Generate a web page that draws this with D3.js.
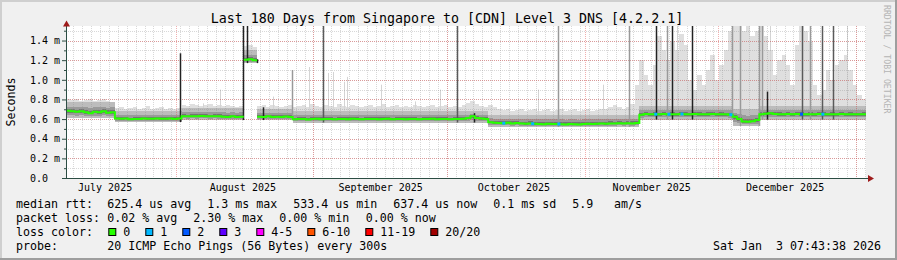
<!DOCTYPE html>
<meta charset="utf-8">
<style>
body { margin: 0; background: #f0f0f0; }
svg { display: block; font-family: "DejaVu Sans Mono", monospace; }
.axis text { font-size: 10px; fill: #000; font-family: "DejaVu Sans Mono", monospace; }
.legend text { font-size: 11.63px; fill: #000; }
</style>
<body>
<svg width="897" height="260"></svg>
<script src="https://cdn.jsdelivr.net/npm/d3@7"></script>
<script>

var title = "Last 180 Days from Singapore to [CDN] Level 3 DNS [4.2.2.1]";
var startTime = new Date("2025-07-07T07:40:00Z");
var endTime = new Date("2026-01-03T07:40:00Z");

// daily median rtt, ms (one value per day from startTime)
var medianMs = [
  // Jul 7 - Jul 17
  0.685, 0.680, 0.675, 0.680, 0.670, 0.660, 0.675, 0.670, 0.680, 0.665, 0.670,
  // Jul 18 - Aug 1
  0.607, 0.603, 0.605, 0.598, 0.600, 0.602, 0.605, 0.603, 0.604, 0.605, 0.603, 0.604, 0.605, 0.602, 0.605,
  // Aug 2 - Aug 15
  0.630, 0.628, 0.630, 0.629, 0.631, 0.630, 0.628, 0.630, 0.629, 0.625, 0.622, 0.628, 0.620, 0.625,
  // Aug 16 - Aug 18
  1.205, 1.210, 1.200,
  // Aug 19 - Aug 26
  0.625, 0.620, 0.628, 0.622, 0.625, 0.620, 0.626, 0.622,
  // Aug 27 - Oct 9
  0.598, 0.600, 0.602, 0.597, 0.600, 0.603, 0.599, 0.601, 0.600, 0.598,
  0.602, 0.600, 0.599, 0.603, 0.600, 0.598, 0.601, 0.600, 0.602, 0.599,
  0.600, 0.603, 0.598, 0.600, 0.601, 0.599, 0.602, 0.600, 0.598, 0.601,
  0.600, 0.603, 0.599, 0.600, 0.602, 0.598, 0.601, 0.600, 0.603, 0.610,
  0.630, 0.612, 0.605, 0.600,
  // Oct 10 - Oct 25
  0.568, 0.563, 0.560, 0.558, 0.562, 0.556, 0.560, 0.555, 0.552, 0.556, 0.553, 0.550, 0.548, 0.552, 0.549, 0.550,
  // Oct 26 - Nov 12
  0.548, 0.545, 0.550, 0.547, 0.545, 0.549, 0.552, 0.550, 0.553, 0.555, 0.552, 0.556, 0.554, 0.557, 0.555, 0.558, 0.556, 0.560,
  // Nov 13 - Dec 3
  0.645, 0.652, 0.648, 0.650, 0.648, 0.651, 0.649, 0.650, 0.648, 0.652, 0.650, 0.649, 0.651, 0.650, 0.648, 0.650, 0.651, 0.649, 0.650, 0.648, 0.645,
  // Dec 4 - Dec 9
  0.625, 0.600, 0.575, 0.572, 0.578, 0.590,
  // Dec 10 - Jan 2
  0.650, 0.655, 0.660, 0.652, 0.650, 0.648, 0.651, 0.649, 0.652, 0.650, 0.648, 0.650,
  0.649, 0.651, 0.650, 0.648, 0.650, 0.649, 0.651, 0.648, 0.650, 0.649, 0.648, 0.650
];

// daily top of the light smoke (slowest pings), ms
var smokeTop = [
  0.80, 0.79, 0.80, 0.78, 0.79, 0.80, 0.78, 0.79, 0.80, 0.78, 0.77,
  0.71, 0.72, 0.70, 0.71, 0.72, 0.70, 0.71, 0.73, 0.70, 0.71, 0.72, 0.70, 0.71, 0.70, 0.71,
  0.74, 0.73, 0.75, 0.74, 0.73, 0.74, 0.75, 0.73, 0.74, 0.73, 0.74, 0.73, 0.72, 0.73,
  1.34, 1.35, 1.33,
  0.73, 0.74, 0.72, 0.74, 0.73, 0.72, 0.73, 0.74,
  0.72, 0.73, 0.74, 0.72, 0.75, 0.73, 0.72, 0.74, 0.73, 0.72,
  0.75, 0.73, 0.72, 0.74, 0.73, 0.72, 0.73, 0.74, 0.72, 0.73,
  0.75, 0.72, 0.73, 0.74, 0.72, 0.73, 0.72, 0.74, 0.73, 0.72,
  0.73, 0.74, 0.72, 0.73, 0.74, 0.72, 0.73, 0.72, 0.74, 0.76,
  0.78, 0.75, 0.73, 0.72,
  0.74, 0.72, 0.70, 0.69, 0.70, 0.68, 0.69, 0.70, 0.68, 0.69,
  0.70, 0.68, 0.69, 0.70, 0.68, 0.69, 0.70, 0.68, 0.69, 0.70,
  0.68, 0.69, 0.70, 0.68, 0.69, 0.70, 0.70, 0.72, 0.74, 0.72,
  0.70, 0.72, 0.75, 0.95,
  1.20, 1.05, 0.95, 1.15, 1.45, 1.30, 1.20, 1.40, 1.30, 1.47,
  1.35, 1.00, 0.90, 1.05, 0.95, 1.10, 1.25, 1.00, 1.15, 1.30,
  1.50, 1.56, 1.56, 1.50, 1.56, 1.45, 1.50, 1.56, 1.45, 1.30,
  1.05, 1.20, 1.25, 1.15, 0.95, 1.35, 1.56, 1.50, 1.40, 0.95,
  0.85, 0.90, 1.10, 1.00, 1.15, 1.20, 1.25, 1.10, 0.95, 0.85,
  0.80
];

// smoke band (fastest ping / upper dense smoke), per period
var bandStart = ["2025-07-07T07:40Z", "2025-07-18T07:40Z", "2025-08-02T07:40Z", "2025-08-16T07:40Z", "2025-08-19T07:40Z",
                 "2025-08-27T07:40Z", "2025-10-10T07:40Z", "2025-11-13T07:40Z", "2025-12-04T07:40Z", "2025-12-10T07:40Z"];
var bandLow  = [0.61, 0.57, 0.59, 1.17, 0.59, 0.565, 0.52, 0.595, 0.53, 0.595];
var bandHigh = [0.77, 0.68, 0.71, 1.30, 0.70, 0.68, 0.645, 0.73, 0.70, 0.73];

// single-interval smoke spikes: time and top value, ms
var blackSpikeAt  = ["2025-08-01T23:15Z", "2025-08-16T03:00Z", "2025-08-17T02:40Z", "2025-08-19T07:00Z", "2025-08-20T13:55Z",
                     "2025-10-07T05:15Z", "2025-11-17T00:30Z", "2025-11-20T17:15Z", "2025-11-25T02:50Z", "2025-12-12T00:30Z"];
var blackSpikeTop = [1.27, 1.55, 1.55, 1.21, 0.72, 0.66, 1.55, 1.55, 1.55, 0.88];
var darkSpikeAt   = ["2025-09-03T05:15Z", "2025-10-03T08:40Z", "2025-12-19T19:40Z", "2025-12-24T07:40Z", "2025-12-26T22:05Z"];
var darkSpikeTop  = [1.55, 1.55, 1.55, 1.55, 1.55];
var greySpikeAt   = ["2025-08-27T02:20Z", "2025-10-26T02:50Z", "2025-11-10T22:05Z", "2025-11-19T12:30Z", "2025-12-04T05:15Z",
                     "2025-12-06T00:30Z", "2025-12-10T05:15Z", "2025-12-10T22:05Z", "2025-12-21T17:15Z"];
var greySpikeTop  = [1.10, 1.55, 1.55, 1.55, 1.55, 1.55, 1.55, 1.55, 1.55];
var lightSpikeAt  = ["2025-08-07T01:50Z", "2025-08-10T20:50Z", "2025-08-22T19:40Z", "2025-08-31T00:30Z", "2025-09-04T05:15Z",
                     "2025-09-05T07:40Z", "2025-09-07T20:50Z", "2025-09-08T11:30Z", "2025-09-16T05:15Z", "2025-09-23T19:40Z",
                     "2025-09-29T10:05Z", "2025-10-21T10:05Z", "2025-11-05T02:50Z", "2025-11-21T19:40Z", "2025-12-12T17:15Z",
                     "2025-12-30T00:30Z"];
var lightSpikeTop = [0.76, 0.90, 0.83, 1.13, 1.07, 1.08, 0.98, 1.03, 0.95, 0.78, 0.90, 0.90, 0.95, 1.55, 1.55, 1.55];

// intervals where the median was drawn in a loss colour
var loss1At = ["2025-10-13T19:40Z", "2025-10-20T07:40Z", "2025-10-26T05:15Z", "2025-11-17T00:30Z", "2025-11-19T23:40Z",
               "2025-11-22T22:05Z", "2025-12-03T22:05Z", "2025-12-24T14:50Z"];
var loss2At = ["2025-12-19T19:40Z"];

var monthLabelAt = ["2025-07-16T00:00Z", "2025-08-16T00:00Z", "2025-09-16T00:00Z", "2025-10-16T00:00Z", "2025-11-16T00:00Z", "2025-12-16T00:00Z"];
var yTicks = [0, 0.2, 0.4, 0.6, 0.8, 1.0, 1.2, 1.4];

var rttStats  = ["625.4 us avg", "1.3 ms max", "533.4 us min", "637.4 us now", "0.1 ms sd", "5.9", "am/s"];
var lossStats = ["0.02 % avg", "2.30 % max", "0.00 % min", "0.00 % now"];
var lossLabels = ["0", "1", "2", "3", "4-5", "6-10", "11-19", "20/20"];
var lossColors = ["#26ff00", "#00b8ff", "#0059ff", "#5e00ff", "#ff00ff", "#ff5500", "#ff0000", "#a10000"];
var probeText = "20 ICMP Echo Pings (56 Bytes) every 300s";
var stamp = "Sat Jan  3 07:43:38 2026";

var svg = d3.select("svg"),
    W = +svg.attr("width"), H = +svg.attr("height");

var x = d3.scaleUtc().domain([startTime, endTime]).range([66, 866]),
    y = d3.scaleLinear().domain([0, 1.548]).range([178, 26]);

// background + 3d frame
svg.append("rect").attr("width", W).attr("height", H).attr("fill", "#f0f0f0");
svg.append("rect").attr("width", W).attr("height", 2).attr("fill", "#cfcfcf");
svg.append("rect").attr("width", 2).attr("height", H).attr("fill", "#cfcfcf");
svg.append("rect").attr("y", H - 2).attr("width", W).attr("height", 2).attr("fill", "#9e9e9e");
svg.append("rect").attr("x", W - 2).attr("width", 2).attr("height", H).attr("fill", "#9e9e9e");

svg.append("rect").attr("x", 66).attr("y", 26).attr("width", 800).attr("height", 152).attr("fill", "#fff");

svg.append("clipPath").attr("id", "plot")
  .append("rect").attr("x", 66).attr("y", 26).attr("width", 800).attr("height", 152);

var g = svg.append("g").attr("clip-path", "url(#plot)");

var bandTimes = bandStart.map(function(d) { return new Date(d); });
function bandIndex(t) { return Math.max(0, d3.bisectRight(bandTimes, t) - 1); }

var pts = medianMs.map(function(v, i) {
  var t = d3.utcDay.offset(startTime, i), k = bandIndex(t);
  return {t: t, med: v, top: smokeTop[i], lo: bandLow[k], hi: bandHigh[k]};
});
var last = pts[pts.length - 1];
pts.push({t: endTime, med: last.med, top: last.top, lo: last.lo, hi: last.hi});

function dayOf(t) {
  return pts[Math.min(medianMs.length - 1, Math.floor((t - startTime) / 864e5))];
}

function layer(lo, hi, fill) {
  g.append("path").datum(pts)
    .attr("fill", fill)
    .attr("shape-rendering", "crispEdges")
    .attr("d", d3.area().curve(d3.curveStepAfter)
      .x(function(d) { return x(d.t); })
      .y0(function(d) { return y(lo(d)); })
      .y1(function(d) { return y(hi(d)); }));
}

function spikes(at, top, colour, w) {
  g.append("g").selectAll("line")
    .data(at.map(function(d, i) { return {t: new Date(d), top: top[i]}; }))
    .enter().append("line")
      .attr("x1", function(d) { return Math.round(x(d.t)) + 0.5; })
      .attr("x2", function(d) { return Math.round(x(d.t)) + 0.5; })
      .attr("y1", function(d) { return y(dayOf(d.t).lo); })
      .attr("y2", function(d) { return y(d.top); })
      .attr("stroke", colour)
      .attr("stroke-width", w);
}

// smoke
layer(function(d) { return d.lo; }, function(d) { return d.top; }, "#dfdfdf");
spikes(lightSpikeAt, lightSpikeTop, "#d4d4d4", 1);
layer(function(d) { return d.lo; }, function(d) { return d.hi; }, "#bcbcbc");
layer(function(d) { return d.lo + (d.med - d.lo) * 0.4; }, function(d) { return d.med + (d.hi - d.med) * 0.5; }, "#9a9a9a");
layer(function(d) { return d.med - (d.med - d.lo) * 0.25; }, function(d) { return d.med + (d.hi - d.med) * 0.22; }, "#747474");

// grid
var minorX = d3.utcDay.range(new Date("2025-07-09T00:00Z"), endTime, 2),
    majorX = d3.utcMonth.range(startTime, endTime);
var grid = svg.append("g").attr("shape-rendering", "crispEdges").attr("stroke-dasharray", "1,1");
grid.selectAll(".vminor").data(minorX).enter().append("line")
  .attr("x1", function(d) { return Math.round(x(d)) + 0.5; })
  .attr("x2", function(d) { return Math.round(x(d)) + 0.5; })
  .attr("y1", 26).attr("y2", 178)
  .attr("stroke", "rgba(143,143,143,0.35)");
grid.selectAll(".hminor").data(y.ticks(16).filter(function(v) { return v > 0; })).enter().append("line")
  .attr("x1", 66).attr("x2", 866)
  .attr("y1", function(d) { return Math.round(y(d)) + 0.5; })
  .attr("y2", function(d) { return Math.round(y(d)) + 0.5; })
  .attr("stroke", "rgba(143,143,143,0.35)");
grid.selectAll(".vmajor").data(majorX).enter().append("line")
  .attr("x1", function(d) { return Math.round(x(d)) + 0.5; })
  .attr("x2", function(d) { return Math.round(x(d)) + 0.5; })
  .attr("y1", 26).attr("y2", 178)
  .attr("stroke", "rgba(222,80,80,0.45)");
grid.selectAll(".hmajor").data(yTicks.slice(1)).enter().append("line")
  .attr("x1", 66).attr("x2", 866)
  .attr("y1", function(d) { return Math.round(y(d)) + 0.5; })
  .attr("y2", function(d) { return Math.round(y(d)) + 0.5; })
  .attr("stroke", "rgba(222,80,80,0.45)");

var g2 = svg.append("g").attr("clip-path", "url(#plot)");
g = g2;
spikes(greySpikeAt, greySpikeTop, "#999", 1.5);
spikes(darkSpikeAt, darkSpikeTop, "#5a5a5a", 1.5);
spikes(blackSpikeAt, blackSpikeTop, "#222", 1.5);

// median line, split at the big jumps
var runs = [[]];
pts.forEach(function(d, i) {
  if (i > 0 && Math.abs(d.med - pts[i - 1].med) > 0.2) {
    runs[runs.length - 1].push({t: d.t, med: pts[i - 1].med});
    runs.push([]);
  }
  runs[runs.length - 1].push(d);
});
var medLine = d3.line().curve(d3.curveStepAfter)
  .x(function(d) { return x(d.t); })
  .y(function(d) { return y(d.med); });
g2.selectAll(".median").data(runs).enter().append("path")
  .attr("fill", "none")
  .attr("stroke", lossColors[0])
  .attr("stroke-width", 2)
  .attr("d", medLine);

function lossDots(at, colour) {
  g2.append("g").selectAll("rect").data(at.map(function(d) { return new Date(d); }))
    .enter().append("rect")
      .attr("x", function(d) { return x(d) - 1.5; })
      .attr("y", function(d) { return y(dayOf(d).med) - 1.5; })
      .attr("width", 3).attr("height", 3)
      .attr("fill", colour);
}
lossDots(loss1At, lossColors[1]);
lossDots(loss2At, lossColors[2]);

// axes
var xAxis = svg.append("g").attr("class", "axis")
  .attr("transform", "translate(0,178)")
  .call(d3.axisBottom(x)
    .tickValues(monthLabelAt.map(function(d) { return new Date(d); }))
    .tickFormat(d3.utcFormat("%B %Y"))
    .tickSize(0).tickPadding(6));
xAxis.select(".domain").remove();

var yAxis = svg.append("g").attr("class", "axis")
  .attr("transform", "translate(66,0)")
  .call(d3.axisLeft(y)
    .tickValues(yTicks)
    .tickSize(4)
    .tickFormat(function(v) { return v === 0 ? "0.0" : d3.format(".1f")(v) + " m"; }));
yAxis.select(".domain").remove();
yAxis.selectAll("line").attr("stroke", "#2c4d43");
yAxis.selectAll("text").attr("text-anchor", "start").attr("x", -36);

svg.append("g").attr("transform", "translate(66,0)")
  .call(d3.axisLeft(y).tickValues(y.ticks(16).filter(function(v) { return Math.round(v * 10) % 2; }))
    .tickSize(2).tickFormat(""))
  .call(function(s) { s.select(".domain").remove(); s.selectAll("line").attr("stroke", "#2c4d43"); });

svg.append("line").attr("x1", 66).attr("x2", 869).attr("y1", 178.5).attr("y2", 178.5)
  .attr("stroke", "#2c4d43");
svg.append("line").attr("x1", 66.5).attr("x2", 66.5).attr("y1", 179).attr("y2", 23)
  .attr("stroke", "#2c4d43");
svg.append("path").attr("d", "M63,26.5L66.5,20.5L70,26.5Z").attr("fill", "#9e1b1b");
svg.append("path").attr("d", "M868,175L874,178.5L868,182Z").attr("fill", "#9e1b1b");

// texts
svg.append("text").attr("x", 447).attr("y", 23).attr("text-anchor", "middle")
  .style("font-size", "13.3px").text(title);
svg.append("text").attr("transform", "translate(15,102) rotate(-90)").attr("text-anchor", "middle")
  .style("font-size", "11.63px").text("Seconds");
svg.append("text").attr("transform", "translate(884,5) rotate(90)")
  .style("font-size", "8.2px").attr("fill", "#b4b4b4").text("RRDTOOL / TOBI OETIKER");

var legend = svg.append("g").attr("class", "legend");
var rttX = [107.3, 207.3, 293.3, 393.3, 493.3, 572.3, 614],
    lossX = [107.3, 193.3, 279.3, 365.7];
legend.append("text").attr("x", 16).attr("y", 208).text("median rtt:");
legend.selectAll(".rtt").data(rttStats).enter().append("text")
  .attr("x", function(d, i) { return rttX[i]; }).attr("y", 208).text(function(d) { return d; });
legend.append("text").attr("x", 16).attr("y", 222).text("packet loss:");
legend.selectAll(".pl").data(lossStats).enter().append("text")
  .attr("x", function(d, i) { return lossX[i]; }).attr("y", 222).text(function(d) { return d; });
legend.append("text").attr("x", 16).attr("y", 236).text("loss color:");
var bx = 108.3;
lossLabels.forEach(function(lbl, i) {
  legend.append("rect").attr("x", bx + 0.5).attr("y", 228.5).attr("width", 7).attr("height", 7)
    .attr("fill", lossColors[i]).attr("stroke", "#000").attr("stroke-width", 1);
  legend.append("text").attr("x", bx + 15).attr("y", 236).text(lbl);
  bx += 15 + lbl.length * 7 + 15;
});
legend.append("text").attr("x", 16).attr("y", 250).text("probe:");
legend.append("text").attr("x", 107.3).attr("y", 250).text(probeText);
legend.append("text").attr("x", 881).attr("y", 250).attr("text-anchor", "end")
  .attr("xml:space", "preserve").style("white-space", "pre").text(stamp);

</script>
